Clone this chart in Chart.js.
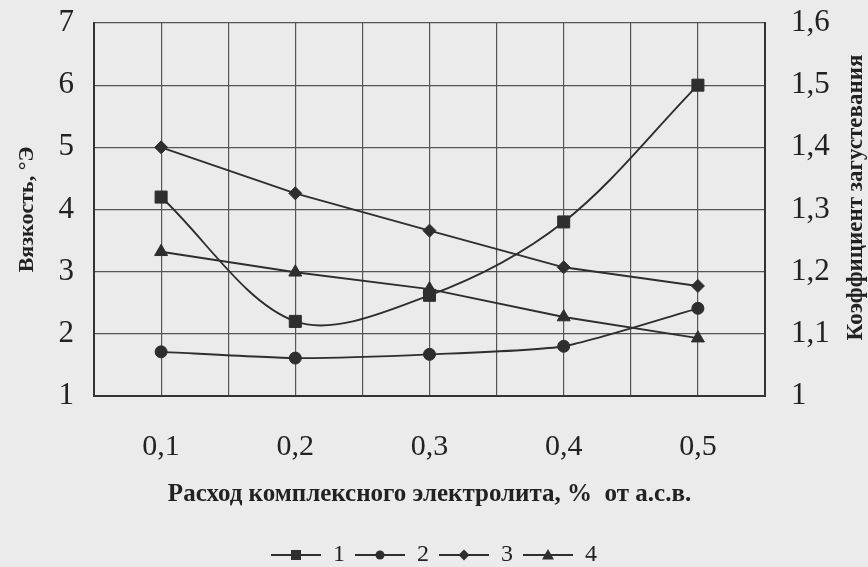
<!DOCTYPE html>
<html>
<head>
<meta charset="utf-8">
<script src="https://cdn.jsdelivr.net/npm/chart.js@4.4.1/dist/chart.umd.min.js"></script>
<style>
html,body{margin:0;padding:0;background:#ebebeb;}
#wrap{width:868px;height:567px;position:relative;}
</style>
</head>
<body>
<div id="wrap"><canvas id="c" width="868" height="567"></canvas></div>
<script>
// ---- data ----
const xValues = [0.1, 0.2, 0.3, 0.4, 0.5];
const xTickLabels = ['0,1', '0,2', '0,3', '0,4', '0,5'];
const series1 = [4.2, 2.2, 2.62, 3.8, 6.0];
const series2 = [1.71, 1.61, 1.67, 1.8, 2.41];
const series3 = [5.0, 4.26, 3.66, 3.07, 2.77];
const series4 = [3.32, 2.99, 2.72, 2.27, 1.93];
const seriesNames = ['1', '2', '3', '4'];
const leftTickLabels = ['1', '2', '3', '4', '5', '6', '7'];
const rightTickLabels = ['1', '1,1', '1,2', '1,3', '1,4', '1,5', '1,6'];
const leftTitle = 'Вязкость, °Э';
const rightTitle = 'Коэффициент загустевания';
const xTitle = 'Расход комплексного электролита, %  от а.с.в.';

const INK = '#2e2e2e';
const FONT = "'Liberation Serif', 'DejaVu Serif', serif";

function legendIcon(style) {
  const w = 50, h = 16;
  const cv = document.createElement('canvas');
  cv.width = w; cv.height = h;
  const g = cv.getContext('2d');
  g.strokeStyle = INK; g.fillStyle = INK; g.lineWidth = 1.8;
  g.beginPath(); g.moveTo(0, h / 2); g.lineTo(w, h / 2); g.stroke();
  const cx = w / 2, cy = h / 2;
  g.beginPath();
  if (style === 'rect') { g.rect(cx - 5, cy - 5, 10, 10); }
  else if (style === 'circle') { g.arc(cx, cy, 4.5, 0, Math.PI * 2); }
  else if (style === 'rectRot') { g.moveTo(cx, cy - 5.5); g.lineTo(cx + 5.5, cy); g.lineTo(cx, cy + 5.5); g.lineTo(cx - 5.5, cy); g.closePath(); }
  else if (style === 'triangle') { g.moveTo(cx, cy - 6); g.lineTo(cx + 6, cy + 4.5); g.lineTo(cx - 6, cy + 4.5); g.closePath(); }
  g.fill();
  return cv;
}

const styles = ['rect', 'circle', 'rectRot', 'triangle'];
const radii = [8.5, 6, 6.5, 7.5];
const tensions = [0.33, 0.2, 0, 0];
const allSeries = [series1, series2, series3, series4];

const datasets = allSeries.map((s, k) => ({
  label: seriesNames[k],
  data: xValues.map((x, i) => ({ x: x, y: s[i] })),
  borderColor: INK,
  backgroundColor: INK,
  borderWidth: 1.9,
  pointStyle: styles[k],
  pointRadius: radii[k],
  pointBackgroundColor: INK,
  pointBorderColor: INK,
  pointBorderWidth: 1,
  tension: tensions[k],
  yAxisID: 'y',
  legendIcon: legendIcon(styles[k])
}));

const bgPlugin = {
  id: 'bg',
  beforeDraw(chart) {
    const ctx = chart.ctx;
    ctx.save();
    ctx.fillStyle = '#ebebeb';
    ctx.fillRect(0, 0, chart.width, chart.height);
    ctx.restore();
  }
};

const rightTitlePlugin = {
  id: 'rightTitle',
  afterDraw(chart) {
    const s = chart.scales.y1;
    const ctx = chart.ctx;
    ctx.save();
    ctx.translate(s.right - 12, (s.top + s.bottom) / 2 - 12);
    ctx.rotate(-Math.PI / 2);
    ctx.font = 'bold 23px ' + FONT;
    ctx.fillStyle = '#222';
    ctx.textAlign = 'center';
    ctx.textBaseline = 'middle';
    ctx.fillText(rightTitle, 0, 0);
    ctx.restore();
  }
};

new Chart(document.getElementById('c'), {
  type: 'line',
  data: { datasets: datasets },
  plugins: [bgPlugin, rightTitlePlugin],
  options: {
    responsive: false,
    animation: false,
    devicePixelRatio: 1,
    layout: { padding: { left: 0, right: 0, top: 23, bottom: -10 } },
    plugins: {
      tooltip: { enabled: false },
      legend: {
        position: 'bottom',
        labels: {
          usePointStyle: true,
          pointStyleWidth: 50,
          padding: 10,
          color: '#222',
          font: { family: FONT, size: 24 },
          generateLabels(chart) {
            return chart.data.datasets.map((d, i) => ({
              text: d.label,
              pointStyle: d.legendIcon,
              fillStyle: INK,
              strokeStyle: INK,
              lineWidth: 0,
              hidden: false,
              datasetIndex: i,
              fontColor: '#222'
            }));
          }
        }
      }
    },
    scales: {
      x: {
        type: 'linear',
        min: 0.05,
        max: 0.55,
        afterFit(s) { s.height = 137; },
        ticks: {
          stepSize: 0.05,
          autoSkip: false,
          maxRotation: 0,
          padding: 33,
          color: '#222',
          font: { family: FONT, size: 30 },
          callback(v) {
            const i = xValues.findIndex(x => Math.abs(x - v) < 1e-6);
            return i >= 0 ? xTickLabels[i] : '';
          }
        },
        grid: { color: '#555', lineWidth: 1.2, drawTicks: false },
        border: { color: '#333', width: 2 },
        title: {
          display: true,
          text: xTitle,
          color: '#222',
          font: { family: FONT, size: 25, weight: 'bold' },
          padding: { top: 0, bottom: 23 }
        }
      },
      y: {
        position: 'left',
        min: 1,
        max: 7,
        afterFit(s) { s.width = 94; s.paddingTop = 0; s.paddingBottom = 0; },
        ticks: {
          stepSize: 1,
          padding: 20,
          color: '#222',
          font: { family: FONT, size: 31 },
          callback(v) { return leftTickLabels[Math.round(v) - 1]; }
        },
        grid: { color: '#555', lineWidth: 1.2, drawTicks: false },
        border: { color: '#333', width: 2 },
        title: {
          display: true,
          text: leftTitle,
          color: '#222',
          font: { family: FONT, size: 22, weight: 'bold' },
          padding: { top: 14, bottom: 0 }
        }
      },
      y1: {
        position: 'right',
        min: 1,
        max: 1.6,
        afterFit(s) { s.width = 103; s.paddingTop = 0; s.paddingBottom = 0; },
        ticks: {
          stepSize: 0.1,
          padding: 26,
          color: '#222',
          font: { family: FONT, size: 31 },
          callback(v) { return rightTickLabels[Math.round((v - 1) * 10)]; }
        },
        grid: { drawOnChartArea: false, drawTicks: false },
        border: { color: '#333', width: 2 }
      }
    }
  }
});
</script>
</body>
</html>
